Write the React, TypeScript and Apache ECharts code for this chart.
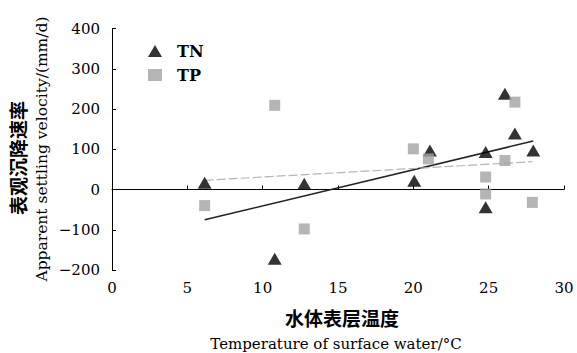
import React, { useEffect, useRef } from "react";
import * as echarts from "echarts";

const tnX = [6.15, 10.8, 12.76, 20.06, 21.1, 24.8, 24.8, 26.08, 26.74, 27.96];
const tnY = [17, -172, 14, 22, 97, 93, -44, 238, 139, 97];
const tpX = [6.15, 10.8, 12.76, 20.0, 21.0, 24.8, 24.8, 26.08, 26.74, 27.9];
const tpY = [-40, 209, -98, 101, 76, 31, -11, 72, 217, -32];
const xTicks = [0, 5, 10, 15, 20, 25, 30];
const yTicks = [-200, -100, 0, 100, 200, 300, 400];

function fitLine(xs: number[], ys: number[]): number[][] {
  const n = xs.length;
  const mx = xs.reduce((a, b) => a + b, 0) / n;
  const my = ys.reduce((a, b) => a + b, 0) / n;
  let sxy = 0;
  let sxx = 0;
  for (let i = 0; i < n; i++) {
    sxy += (xs[i] - mx) * (ys[i] - my);
    sxx += (xs[i] - mx) * (xs[i] - mx);
  }
  const k = sxy / sxx;
  const b = my - k * mx;
  const x0 = Math.min(...xs);
  const x1 = Math.max(...xs);
  return [
    [x0, k * x0 + b],
    [x1, k * x1 + b],
  ];
}

const SERIF = "DejaVu Serif";
const CJK = "Noto Sans CJK SC";

export default function App() {
  const ref = useRef<HTMLDivElement>(null);
  useEffect(() => {
    if (!ref.current) return;
    const chart = echarts.init(ref.current, undefined, { renderer: "svg" });
    const tn = tnX.map((x, i) => [x, tnY[i]]);
    const tp = tpX.map((x, i) => [x, tpY[i]]);
    chart.setOption({
      animation: false,
      backgroundColor: "#fff",
      grid: { left: 112, right: 13, top: 28.5, bottom: 83 },
      legend: {
        data: [
          { name: "TN", icon: "triangle" },
          { name: "TP", icon: "rect" },
        ],
        orient: "vertical",
        left: 143,
        top: 38,
        itemWidth: 14,
        itemHeight: 12,
        itemGap: 8,
        textStyle: {
          fontFamily: SERIF,
          fontSize: 16,
          fontWeight: "bold",
          color: "#000",
          padding: [0, 0, 0, 10],
        },
      },
      xAxis: {
        type: "value",
        min: xTicks[0],
        max: xTicks[xTicks.length - 1],
        interval: 5,
        splitLine: { show: false },
        axisLine: { lineStyle: { color: "#000", width: 1 } },
        axisTick: { inside: true, length: 4, lineStyle: { color: "#000" } },
        axisLabel: {
          margin: 10,
          fontFamily: SERIF,
          fontSize: 15,
          color: "#000",
        },
      },
      yAxis: {
        type: "value",
        min: yTicks[0],
        max: yTicks[yTicks.length - 1],
        interval: 100,
        splitLine: { show: false },
        axisLine: { show: true, lineStyle: { color: "#000", width: 1 } },
        axisTick: { show: true, inside: true, length: 4, lineStyle: { color: "#000" } },
        axisLabel: {
          margin: 12,
          fontFamily: SERIF,
          fontSize: 15,
          color: "#000",
          formatter: (v: number) => (v < 0 ? "\u2212" + Math.abs(v) : String(v)),
        },
      },
      graphic: [
        {
          type: "text",
          x: 17,
          y: 158,
          rotation: Math.PI / 2,
          style: {
            text: "表观沉降速率",
            fontFamily: CJK,
            fontSize: 19,
            fontWeight: "bold",
            fill: "#000",
            align: "center",
            verticalAlign: "middle",
          },
        },
        {
          type: "text",
          x: 42,
          y: 149,
          rotation: Math.PI / 2,
          style: {
            text: "Apparent settling velocity/(mm/d)",
            fontFamily: SERIF,
            fontSize: 15.5,
            fill: "#000",
            align: "center",
            verticalAlign: "middle",
          },
        },
        {
          type: "text",
          x: 342,
          y: 317,
          style: {
            text: "水体表层温度",
            fontFamily: CJK,
            fontSize: 19,
            fontWeight: "bold",
            fill: "#000",
            align: "center",
            verticalAlign: "middle",
          },
        },
        {
          type: "text",
          x: 336,
          y: 344,
          style: {
            text: "Temperature of surface water/°C",
            fontFamily: SERIF,
            fontSize: 15,
            fill: "#000",
            align: "center",
            verticalAlign: "middle",
          },
        },
      ],
      series: [
        {
          name: "TN fit",
          type: "line",
          data: fitLine(tnX, tnY),
          symbol: "none",
          lineStyle: { color: "#222", width: 1.5 },
          z: 2,
        },
        {
          name: "TP fit",
          type: "line",
          data: fitLine(tpX, tpY),
          symbol: "none",
          lineStyle: { color: "#b5b5b5", width: 1.2, type: [9, 3] },
          z: 2,
        },
        {
          name: "TN",
          type: "scatter",
          data: tn,
          symbol: "triangle",
          symbolSize: [14, 12],
          itemStyle: { color: "#000" },
          z: 3,
        },
        {
          name: "TP",
          type: "scatter",
          data: tp,
          symbol: "rect",
          symbolSize: 11,
          itemStyle: { color: "#a3a3a3" },
          z: 4,
        },
      ],
    });
    return () => chart.dispose();
  }, []);
  return <div ref={ref} style={{ width: 577, height: 353, position: "absolute", left: 0, top: 0 }} />;
}
